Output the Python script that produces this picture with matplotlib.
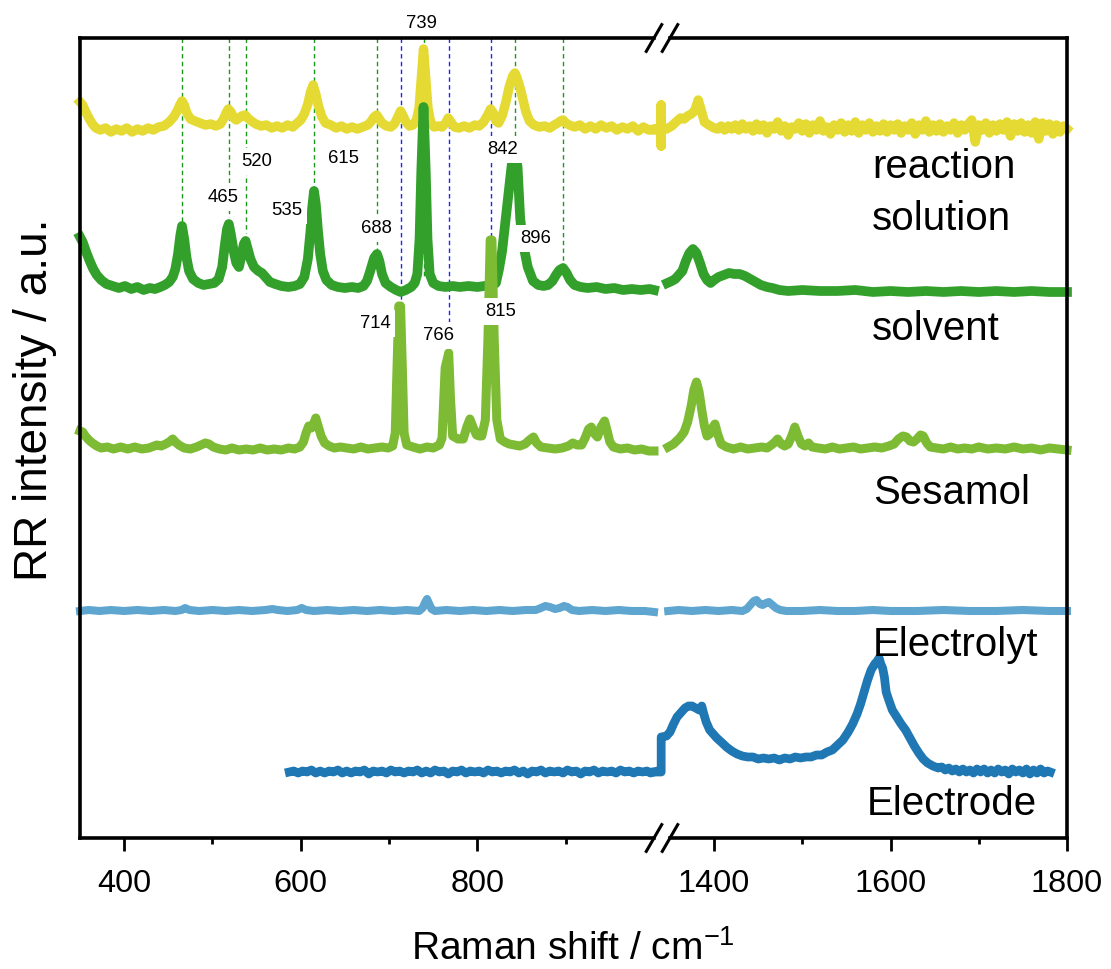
import matplotlib
matplotlib.use('Agg')
import matplotlib.pyplot as plt
from matplotlib.lines import Line2D
import numpy as np

plt.rcParams['font.family'] = ['Liberation Sans', 'DejaVu Sans']
plt.rcParams['mathtext.fontset'] = 'custom'
plt.rcParams['mathtext.rm'] = 'Liberation Sans'
plt.rcParams['mathtext.it'] = 'Liberation Sans:italic'
plt.rcParams['mathtext.bf'] = 'Liberation Sans:bold'

# ---------------- data (wavenumber, relative intensity) ----------------
reaction_left = [(350, 28), (353, 25), (356, 19), (360, 12), (364, 6), (368, 2), (373, 0), (379, 2), (385, -2),
                 (391, 1), (397, -1), (403, 2), (409, -2), (415, 1), (421, -1), (427, 2), (433, 0), (439, 3),
                 (445, 4), (451, 8), (456, 13), (460, 19), (463, 25), (465.5, 29), (468, 25), (471, 17), (475, 11),
                 (480, 9), (486, 7), (492, 5), (498, 6), (504, 4), (509, 6), (513, 12), (516, 18), (518, 21),
                 (521, 18), (524, 12), (527, 10), (530, 12), (533, 14), (537, 15), (540, 12), (544, 9), (549, 6),
                 (555, 4), (561, 5), (567, 2), (573, 4), (579, 2), (585, 5), (591, 3), (596, 7), (600, 10),
                 (604, 16), (608, 26), (611, 38), (614, 45), (617, 36), (620, 24), (624, 13), (628, 7), (634, 5),
                 (640, 2), (646, 4), (652, 1), (658, 3), (664, 1), (670, 3), (676, 5), (680, 9), (683, 13),
                 (686, 15), (689, 11), (692, 7), (697, 4), (702, 3), (706, 6), (710, 13), (713, 19), (716, 14),
                 (719, 8), (723, 4), (727, 5), (731, 10), (734, 22), (736.5, 52), (739, 81), (741.5, 52),
                 (744, 22), (747, 8), (751, 3), (756, 4), (760, 3), (764, 7), (767, 12), (770, 8), (774, 3),
                 (779, 2), (785, 4), (791, 2), (797, 5), (802, 4), (807, 8), (811, 14), (815, 21), (818, 17),
                 (821, 9), (824, 7), (828, 14), (832, 27), (836, 43), (840, 54), (842.5, 57), (845, 52),
                 (849, 40), (852, 29), (855, 18), (859, 9), (864, 5), (870, 3), (876, 4), (882, 2), (887, 5),
                 (891, 7), (894, 9), (897, 10), (900, 7), (904, 5), (910, 3), (916, 5), (922, 1), (928, 4),
                 (934, 1), (940, 5), (946, 2), (952, 4), (958, 0), (964, 3), (970, 1), (976, 4), (982, -1),
                 (988, 3), (994, 0), (1000, 1)]
reaction_right = [(1333, 0), (1340, 0), (1340, 25), (1340, -16), (1340, 0), (1346, 1), (1352, 4), (1358, 9),
                  (1362, 12), (1366, 11), (1370, 14), (1374, 16), (1378, 19), (1382, 30), (1385, 21), (1389, 8),
                  (1394, 5), (1400, 2),
                  (1404, 1), (1408, 4), (1412, 0), (1416, 4), (1420, 1), (1424, 5), (1428, 0), (1432, 6),
                  (1436, 1), (1440, 4), (1444, -1), (1448, 6), (1452, 0), (1456, 5), (1460, -3), (1464, 4),
                  (1468, 1), (1472, 8), (1476, -1), (1480, 4), (1484, -5), (1488, 3), (1492, 1), (1496, 7),
                  (1500, -1), (1504, 6), (1508, -3), (1512, 5), (1516, 0), (1520, 9), (1524, -1), (1528, 3),
                  (1532, -4), (1536, 5), (1540, 0), (1544, 7), (1548, -2), (1552, 5), (1556, -1), (1560, 8),
                  (1564, -3), (1568, 5), (1572, 0), (1576, 7), (1580, -2), (1584, 4), (1588, -1), (1592, 6),
                  (1596, -2), (1600, 5), (1604, 0), (1608, 6), (1612, -3), (1616, 4), (1620, 0), (1624, 7),
                  (1628, -4), (1632, 5), (1636, 0), (1640, 9), (1644, -2), (1648, 5), (1652, -1), (1656, 6),
                  (1660, -2), (1664, 4), (1668, 0), (1672, 7), (1676, -3), (1680, 5), (1684, 0), (1688, 6),
                  (1692, 10), (1696, -12), (1700, 5), (1704, 0), (1708, 7), (1712, -3), (1716, 5), (1720, -1),
                  (1724, 6), (1728, 0), (1732, 8), (1736, -6), (1740, 6), (1744, -1), (1748, 7), (1752, -2),
                  (1756, 5), (1760, -3), (1764, 8), (1768, -9), (1772, 7), (1776, -1), (1780, 6), (1784, -4),
                  (1788, 5), (1792, -2), (1796, 4), (1800, 1)]

solvent_left = [(350, 52), (353, 47), (357, 37), (361, 28), (365, 20), (369, 14), (374, 9), (380, 5), (387, 3),
                (394, 1), (401, 3), (408, 0), (415, 2), (422, -1), (429, 1), (435, 0), (441, 2), (446, 4),
                (451, 7), (455, 12), (458, 20), (461, 35), (463.5, 53), (465.5, 63), (468, 50), (470.5, 32),
                (473.5, 18), (478, 10), (484, 6), (490, 4), (496, 5), (502, 6), (507, 10), (511, 22), (514, 44),
                (516.5, 60), (518.5, 65), (521, 54), (524, 38), (527, 26), (530, 22), (533, 34), (535.5, 45),
                (537.5, 48), (540, 40), (543, 30), (547, 22), (552, 18), (556, 16), (560, 12), (565, 7),
                (571, 5), (578, 3), (586, 2), (593, 3), (599, 5), (604, 12), (608, 30), (611, 58), (613, 82),
                (615, 98), (617, 85), (619.5, 58), (622, 35), (625, 18), (629, 9), (635, 4), (642, 2), (650, 1),
                (658, 2), (665, 1), (671, 3), (675, 8), (679, 19), (683, 31), (686.3, 35), (689, 28), (692, 15),
                (696, 6), (702, 2), (708, -1), (713, -3), (719, -1), (725, 2), (729, 6), (732, 15), (734.5, 50),
                (736.5, 118), (739, 182), (741.5, 118), (743.5, 50), (746, 15), (750, 6), (756, 3), (764, 2),
                (772, 3), (780, 2), (790, 3), (800, 2), (808, 3), (814, 4), (818, 4), (821, 6), (824.5, 20),
                (828, 38), (830, 54), (835, 95), (839, 125), (842.5, 140), (845.5, 122), (848.5, 70),
                (852.5, 42), (857, 22), (863, 8), (869, 4), (875, 3), (880, 4), (885, 8), (889, 14), (893, 19),
                (897, 21), (901, 16), (905, 9), (910, 4), (917, 2), (925, 1), (935, 2), (945, 0), (955, 1),
                (965, -1), (975, 0), (985, -1), (995, 0), (1000, -1)]
solvent_right = [(1347, 6), (1352, 8), (1356, 10), (1360, 14), (1364, 18), (1368, 28), (1372, 36), (1376, 40),
                 (1380, 36), (1384, 26), (1388, 15), (1392, 9), (1396, 6), (1400, 9), (1405, 12), (1411, 14),
                 (1417, 16), (1423, 15), (1429, 15), (1435, 13), (1441, 10), (1447, 7), (1453, 4), (1460, 2),
                 (1466, 1), (1474, -1), (1484, -2), (1500, -1), (1520, -2), (1540, -2), (1560, -1), (1580, -3),
                 (1600, -2), (1620, -3), (1640, -2), (1660, -3), (1680, -2), (1700, -3), (1720, -2), (1740, -3),
                 (1760, -2), (1780, -3), (1800, -3)]

sesamol_left = [(350, 17), (353, 16), (356, 12), (360, 8), (364, 5), (369, 2), (374, 0), (381, 1), (388, -1),
                (396, 1), (404, -1), (412, 1), (420, -1), (428, 0), (434, 2), (437, 3), (442, 2), (447, 4),
                (451, 6), (455, 9), (458, 6), (462, 3), (468, 0), (475, -1), (482, 1), (487, 3), (492, 5),
                (496, 4), (501, 1), (508, -1), (515, -2), (522, 0), (530, -2), (538, -1), (546, -2), (554, 0),
                (562, -2), (570, -1), (578, -2), (586, 0), (593, -1), (599, 1), (603, 6), (606, 15), (609, 22),
                (612, 20), (614, 23), (617, 30), (620, 21), (623, 12), (627, 5), (632, 2), (638, 0), (645, 1),
                (652, 0), (660, -1), (668, 1), (676, -1), (684, 0), (692, 1), (699, 0), (704, 2), (707, 15),
                (709, 80), (711, 142), (713, 142), (715, 80), (717, 15), (720, 3), (727, 1), (735, -1),
                (743, 1), (750, 0), (757, 3), (760, 10), (762, 50), (763.5, 80), (767.5, 95), (769.5, 50),
                (772, 12), (778, 9), (784, 9), (788, 21), (791.5, 29), (795, 21), (799, 13), (802, 12),
                (805, 12), (809, 28), (812, 110), (814.5, 208), (816.5, 208), (819, 110), (822, 28), (826, 9),
                (831, 6), (836, 4), (842, 3), (848, 2), (854, 4), (859, 8), (863.5, 11), (867, 5), (872, 1),
                (880, 0), (888, -1), (896, 0), (903, 2), (908, 5), (913, 3), (918, 3), (922, 10), (926, 19),
                (929, 21), (932, 15), (936, 11), (940, 21), (944, 27), (947, 17), (950, 6), (954, 1), (962, -1),
                (970, 0), (978, -2), (986, -1), (994, -3), (1000, -3)]
sesamol_right = [(1348, 1), (1354, 4), (1361, 10), (1366, 16), (1370, 26), (1374, 42), (1377, 58), (1380, 66),
                 (1383, 56), (1386, 38), (1389, 22), (1392, 12), (1395, 14), (1398, 20), (1401, 24), (1404, 14),
                 (1408, 4), (1414, 1), (1422, -1), (1430, 1), (1438, -1), (1446, 0), (1454, 1), (1460, 0),
                 (1465, 3), (1469, 6), (1472, 9), (1476, 4), (1480, 2), (1484, 4), (1488, 12), (1491.5, 21),
                 (1495, 12), (1499, 4), (1503, 2), (1507, 5), (1511, 1), (1518, 0), (1526, -1), (1534, 1),
                 (1542, -1), (1550, 0), (1558, 1), (1566, -1), (1574, 0), (1582, 1), (1590, 0), (1598, 2),
                 (1604, 4), (1609, 9), (1614, 12), (1618, 11), (1622, 7), (1626, 6), (1630, 9), (1634, 13),
                 (1637, 12), (1641, 5), (1645, 1), (1652, 0), (1660, -1), (1668, 1), (1676, -1), (1684, 0),
                 (1692, -1), (1700, 1), (1710, -1), (1720, 0), (1730, -1), (1740, 1), (1750, -1), (1760, 0),
                 (1770, -2), (1780, 0), (1790, -1), (1800, -2)]

electrolyte_left = [(350, 0), (360, 1), (372, 0), (385, 1), (400, 0), (415, 1), (430, 0), (445, 1), (458, 0),
                    (465, 1), (469, 3), (474, 1), (485, 0), (500, 1), (515, 0), (530, 1), (545, 0), (560, 1),
                    (568, 2), (574, 1), (585, 0), (596, 1), (601, 3), (606, 1), (615, 0), (630, 1), (645, 0),
                    (660, 1), (675, 0), (690, 1), (705, 0), (720, 1), (734, 0), (738, 3), (741, 9), (743, 12),
                    (745.5, 7), (748, 2), (752, 0), (765, 1), (780, 0), (795, 1), (810, 0), (825, 1), (840, 0),
                    (855, 1), (866, 1), (872, 3), (877, 5), (882, 4), (888, 2), (893, 3), (898, 5), (902, 4),
                    (907, 1), (915, 0), (930, 1), (945, 0), (960, 1), (975, 0), (990, 0), (1000, -1)]
electrolyte_right = [(1348, 0), (1360, 1), (1375, 0), (1390, 1), (1405, 0), (1420, 1), (1432, 0), (1437, 2),
                     (1441, 6), (1445, 10), (1448, 11), (1452, 7), (1455, 6), (1459, 8), (1462, 9), (1466, 6),
                     (1470, 3), (1475, 1), (1482, 0), (1500, 0), (1520, 1), (1540, 0), (1560, 0), (1580, 1),
                     (1600, 0), (1630, 0), (1660, 1), (1690, 0), (1720, 0), (1750, 1), (1780, 0), (1800, 0)]

electrode_left = [(587, 0), (592, 1), (597, -1), (602, 1), (607, 0), (612, 2), (617, -1), (622, 1), (627, -1),
                  (632, 1), (637, 0), (642, 2), (647, -1), (652, 1), (657, -1), (662, 1), (667, 0), (672, 2),
                  (677, -2), (682, 1), (687, 0), (692, 1), (697, -1), (702, 2), (707, 0), (712, 1), (717, -1),
                  (722, 1), (727, 0), (732, 2), (737, -1), (742, 1), (747, -1), (752, 2), (757, 0), (762, 1),
                  (767, -2), (772, 1), (777, 0), (782, 2), (787, -1), (792, 1), (797, 0), (802, 1), (807, -1),
                  (812, 2), (817, 0), (822, 1), (827, -1), (832, 1), (837, 0), (842, 2), (847, -1), (852, 1),
                  (857, -2), (862, 1), (867, 0), (872, 2), (877, -1), (882, 1), (887, 0), (892, 1), (897, -1),
                  (902, 2), (907, 0), (912, 1), (917, -2), (922, 1), (927, 0), (932, 2), (937, -1), (942, 1),
                  (947, 0), (952, 1), (957, -1), (962, 2), (967, 0), (972, 1), (977, -1), (982, 1), (987, 0),
                  (992, 1), (996, -1), (1000, 0)]
electrode_right = [(1333, 0), (1340, 0), (1340, 35), (1346, 36), (1350, 40), (1354, 48), (1358, 55), (1363, 60),
                   (1367, 64), (1371, 66), (1375, 66), (1379, 64), (1383, 62), (1386, 66), (1388, 59),
                   (1391, 50), (1395, 42), (1399, 38), (1403, 34), (1408, 30), (1414, 25), (1420, 21),
                   (1426, 18), (1432, 16), (1438, 15), (1444, 15), (1450, 13), (1456, 14), (1462, 13),
                   (1468, 14), (1474, 12), (1480, 14), (1486, 13), (1492, 15), (1498, 14), (1504, 15),
                   (1510, 15), (1516, 17), (1522, 17), (1528, 20), (1534, 22), (1540, 27), (1546, 32),
                   (1552, 40), (1557, 48), (1562, 58), (1566, 68), (1570, 80), (1574, 92), (1578, 102),
                   (1582, 108), (1585, 111), (1587, 114), (1589, 108), (1591, 104), (1593, 95), (1595, 80),
                   (1598, 72), (1602, 62), (1607, 55), (1612, 48), (1617, 42), (1622, 34), (1627, 26),
                   (1632, 19), (1637, 13), (1642, 9), (1648, 6), (1654, 4), (1658, 5), (1662, 2), (1666, 4),
                   (1670, 1), (1674, 3), (1678, 0), (1682, 3), (1686, 0), (1690, 2), (1694, -1), (1698, 3),
                   (1702, 0), (1706, 3), (1710, -1), (1714, 2), (1718, -1), (1722, 3), (1726, 0), (1730, 2),
                   (1734, -2), (1738, 3), (1742, 0), (1746, 2), (1750, -1), (1754, 3), (1758, -2), (1762, 2),
                   (1766, -1), (1770, 3), (1774, -1), (1778, 1), (1781, 0)]

series_names = ['reaction solution', 'solvent', 'Sesamol', 'Electrolyt', 'Electrode']
series_offsets = [708, 549, 390, 227, 66]

peak_labels = ['739', '520', '615', '465', '535', '688', '842', '896', '714', '766', '815']
green_lines = [465.5, 518.2, 537.6, 615, 686.3, 739.1, 842.6, 897]
blue_lines = [713.5, 767.9, 815.4]

left_ticks = [400, 600, 800]
left_minor = [500, 700, 900]
right_ticks = [1400, 1600, 1800]
right_minor = [1500, 1700]

# ---------------- layout ----------------
W, H = 1111, 969
fig = plt.figure(figsize=(W / 100, H / 100), dpi=100)
ax_bottom_px, ax_top_px = 838, 38
axL = fig.add_axes([80 / W, (H - ax_bottom_px) / H, 574 / W, (ax_bottom_px - ax_top_px) / H])
axR = fig.add_axes([670 / W, (H - ax_bottom_px) / H, 397 / W, (ax_bottom_px - ax_top_px) / H])

for ax in (axL, axR):
    ax.set_facecolor('none')
    ax.set_ylim(0, 800)
    ax.set_yticks([])
    for s in ax.spines.values():
        s.set_linewidth(2.6)
    ax.tick_params(axis='x', which='major', direction='out', length=9.4, width=2.0, pad=13,
                   labelsize=23.4, top=False)
    ax.tick_params(axis='x', which='minor', direction='out', length=4.3, width=2.0, top=False)
axL.spines['right'].set_visible(False)
axR.spines['left'].set_visible(False)
axL.set_xlim(350, 1000)
axR.set_xlim(1350, 1800)
axL.set_xticks(left_ticks)
axL.set_xticks(left_minor, minor=True)
axR.set_xticks(right_ticks)
axR.set_xticks(right_minor, minor=True)

colors = ['#e5da33', '#33a02c', '#7dbb35', '#5ea6cf', '#1f77b4']
lws = [6.8, 7.0, 6.5, 5.8, 6.3]
data_left = [reaction_left, solvent_left, sesamol_left, electrolyte_left, electrode_left]
data_right = [reaction_right, solvent_right, sesamol_right, electrolyte_right, electrode_right]

for i in range(5):
    for ax, pts in ((axL, data_left[i]), (axR, data_right[i])):
        v, r = zip(*pts)
        ax.plot(v, np.array(r) + series_offsets[i], color=colors[i], lw=lws[i], clip_on=False,
                zorder=2 + i * 0.1, solid_joinstyle='round')

# dashed guide lines (under the spectra)
green_bottom = [616, 621, 605, 651, 588, 560, 678, 573]
blue_bottom = [526, 475, 538]
for x, b in zip(green_lines, green_bottom):
    axL.plot([x, x], [800, b], color='#1a9a1a', lw=1.0, ls=(0, (3.2, 2.4)), zorder=1, clip_on=False)
for x, b in zip(blue_lines, blue_bottom):
    axL.plot([x, x], [800, b], color='#2222ff', lw=1.0, ls=(0, (3.2, 2.4)), zorder=1, clip_on=False)

# peak labels (baseline positions); the one above the frame has no backing box
lab_x = [736.1, 550.4, 648.5, 512.5, 584, 685.2, 828.3, 866.4, 684.6, 756, 826.2]
lab_y = [810, 672, 675, 636, 623, 605, 684, 595, 510, 498, 522]
for k, (s, x, y) in enumerate(zip(peak_labels, lab_x, lab_y)):
    box = None if k == 0 else dict(boxstyle='square,pad=0.25', fc='white', ec='none')
    axL.text(x, y, s, fontsize=13.3, ha='center', va='baseline', zorder=10, clip_on=False, bbox=box)

# series names
name_pos = [(872, 178.3, 'reaction'), (872, 230, 'solution'), (872, 340, series_names[1]),
            (873, 504, series_names[2]), (873, 656, series_names[3]), (867, 815, series_names[4])]
for x, y, s in name_pos:
    fig.text(x / W, 1 - y / H, s, fontsize=29, ha='left', va='baseline', zorder=10)

# axis titles
fig.text(35 / W, 1 - 400 / H, 'RR intensity / a.u.', rotation=90, ha='center', va='center', fontsize=33)
fig.text(573 / W, 1 - 960 / H, 'Raman shift / cm$^{-1}$', ha='center', va='baseline', fontsize=28)

# break marks
for cx in (654, 670):
    for cy in (38, 838):
        fig.add_artist(Line2D([(cx - 8.5) / W, (cx + 8.5) / W], [1 - (cy + 14.7) / H, 1 - (cy - 14.7) / H],
                              transform=fig.transFigure, color='black', lw=2.2, solid_capstyle='butt'))

fig.savefig('out.png', dpi=100)
